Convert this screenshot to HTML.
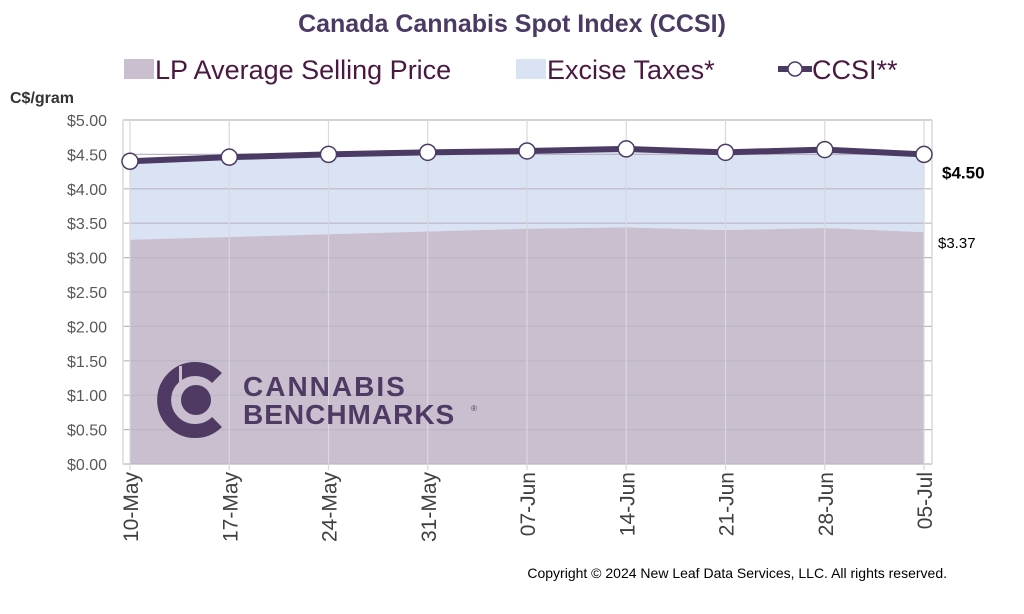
<!DOCTYPE html>
<html><head><meta charset="utf-8"><style>
body{margin:0;background:#fff;width:1024px;height:609px;overflow:hidden;font-family:"Liberation Sans",sans-serif}
</style></head><body>
<svg id="c" width="1024" height="609" xmlns="http://www.w3.org/2000/svg">
<text x="512" y="32" text-anchor="middle" font-size="25" font-weight="bold" fill="#4b3a63" font-family="Liberation Sans Narrow, Liberation Sans, sans-serif">Canada Cannabis Spot Index (CCSI)</text>
<g font-family="Liberation Sans Narrow, Liberation Sans, sans-serif" font-size="27" fill="#4a1942">
<rect x="124" y="59" width="30" height="20" fill="#c9bfcf"/>
<text x="155" y="79">LP Average Selling Price</text>
<rect x="516" y="59" width="30" height="20" fill="#d9e3f3"/>
<text x="547" y="79">Excise Taxes*</text>
<line x1="778" y1="69" x2="812" y2="69" stroke="#4b3a63" stroke-width="6"/>
<circle cx="795" cy="69" r="7" fill="#fff" stroke="#4b3a63" stroke-width="1.5"/>
<text x="812" y="79">CCSI**</text>
</g>
<text x="10" y="103" font-size="16" font-weight="bold" fill="#333" font-family="Liberation Sans Narrow, Liberation Sans, sans-serif">C$/gram</text>
<g id="plot"></g>
<text x="947" y="578" font-size="14" fill="#000" text-anchor="end">Copyright © 2024 New Leaf Data Services, LLC. All rights reserved.</text>
</svg>
<script>
const categories=["10-May","17-May","24-May","31-May","07-Jun","14-Jun","21-Jun","28-Jun","05-Jul"];
const ccsi=[4.40,4.46,4.50,4.53,4.55,4.58,4.53,4.57,4.50];
const lpPrice=[3.26,3.30,3.34,3.38,3.42,3.44,3.40,3.43,3.37];
const yTicks=[0,0.5,1,1.5,2,2.5,3,3.5,4,4.5,5];
(function(){
const NS="http://www.w3.org/2000/svg";
const g=document.getElementById('plot');
const L=123,R=932,T=120,B=464;
const x=i=>130+i*(924-130)/(categories.length-1);
const y=v=>B-(v/5)*(B-T);
function mk(t,a){const e=document.createElementNS(NS,t);for(const k in a)e.setAttribute(k,a[k]);g.appendChild(e);return e;}
const topPts=ccsi.map((v,i)=>x(i)+","+y(v)).join(" ");
const lp=lpPrice.map((v,i)=>x(i)+","+y(v));
let e=mk('polygon',{points:topPts+" "+lp.slice().reverse().join(" "),fill:"#d9e3f3"});


e=mk('polygon',{points:lp.join(" ")+" "+x(categories.length-1)+","+B+" "+x(0)+","+B,fill:"#c9bfcf"});


yTicks.forEach(v=>{
 let l=mk('line',{x1:L,x2:R,y1:y(v),y2:y(v),stroke:"#bdb5c3","stroke-width":1.2});
 
 
 let t=mk('text',{x:107,y:y(v)+6,"text-anchor":"end","font-size":16,fill:"#595959","font-family":"Liberation Sans Narrow, Liberation Sans, sans-serif"});
 t.textContent="$"+v.toFixed(2);
 
 
});
categories.forEach((c,i)=>{
 let l=mk('line',{x1:x(i),x2:x(i),y1:T,y2:B+6,stroke:"#d9d9d9","stroke-width":1.2});
 
 
 let t=mk('text',{x:0,y:0,"text-anchor":"end","font-size":21,fill:"#404040",transform:`translate(${x(i)+8},${B+8}) rotate(-90)`,"font-family":"Liberation Sans Narrow, Liberation Sans, sans-serif"});
 t.textContent=c;
 
 
});
let a=mk('line',{x1:L,x2:L,y1:T,y2:B,stroke:"#d9d9d9","stroke-width":1.5});


a=mk('line',{x1:R,x2:R,y1:T,y2:B,stroke:"#d9d9d9","stroke-width":1.5});


let lg=document.createElementNS(NS,'g');g.appendChild(lg);


lg.innerHTML='<path d="M217,378 A31,31 0 1 0 217,422" fill="none" stroke="#4e3a63" stroke-width="14"/><rect x="179" y="366" width="3" height="20" fill="#c9bfcf"/><circle cx="196" cy="400" r="15" fill="#4e3a63"/><text x="243" y="396" font-size="28" font-weight="bold" fill="#4e3a63" letter-spacing="2">CANNABIS</text><text x="243" y="424" font-size="28" font-weight="bold" fill="#4e3a63" letter-spacing="1">BENCHMARKS</text><text x="471" y="411" font-size="8" fill="#4e3a63">®</text>';
let pl=mk('polyline',{points:topPts,fill:"none",stroke:"#4b3a63","stroke-width":6});


ccsi.forEach((v,i)=>{
 let c=mk('circle',{cx:x(i),cy:y(v),r:8,fill:"#fff",stroke:"#4b3a63","stroke-width":1.5});
 
 
});
const n=categories.length-1;
let t=mk('text',{x:942,y:y(ccsi[n])+24,"font-size":17,"font-weight":"bold",fill:"#000"});
t.textContent="$"+ccsi[n].toFixed(2);


t=mk('text',{x:938,y:y(lpPrice[n])+16,"font-size":15,fill:"#000"});
t.textContent="$"+lpPrice[n].toFixed(2);


})();
</script>
</body></html>
